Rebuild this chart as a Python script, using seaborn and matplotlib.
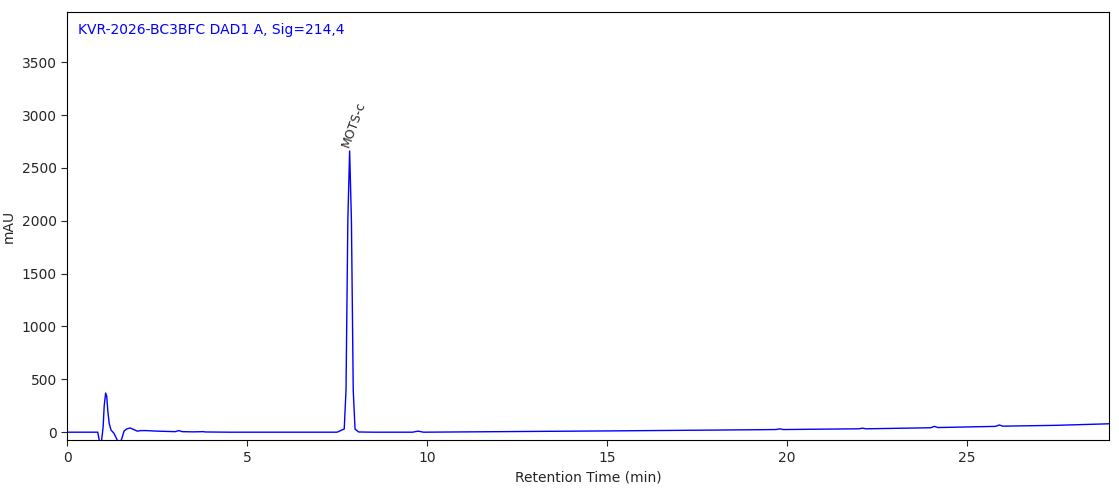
import matplotlib
matplotlib.use("Agg")
import matplotlib.pyplot as plt
import seaborn as sns
import pandas as pd

time_min = [0.0, 0.85, 0.9, 0.95, 1.0, 1.03, 1.07, 1.1, 1.13, 1.17, 1.22, 1.3, 1.4, 1.47, 1.52, 1.58, 1.65, 1.75, 1.85, 1.95, 2.05, 2.2, 2.5, 3.0, 3.1, 3.2, 3.5, 3.78, 3.85, 4.5, 6.0, 7.5, 7.7, 7.75, 7.8, 7.85, 7.9, 7.95, 8.0, 8.1, 8.5, 9.6, 9.75, 9.9, 12.0, 15.0, 18.0, 19.7, 19.8, 19.9, 22.0, 22.1, 22.2, 24.0, 24.1, 24.2, 25.8, 25.9, 26.0, 27.5, 29.0]
mau = [0, 0, -90, -100, 50, 250, 370, 340, 200, 80, 20, -10, -80, -100, -60, 10, 30, 40, 25, 10, 15, 15, 10, 5, 15, 5, 3, 5, 2, 0, 0, 0, 30, 400, 2000, 2660, 2000, 400, 30, 2, 0, 0, 10, 0, 5, 12, 20, 25, 32, 25, 32, 38, 32, 42, 55, 44, 55, 68, 57, 65, 80]

df = pd.DataFrame({"t": time_min, "v": mau})

sns.set_style("white")
fig, ax = plt.subplots(figsize=(11.19, 4.99), dpi=100)
sns.lineplot(data=df, x="t", y="v", ax=ax, color="blue", linewidth=1)
ax.set_xlim(0, 28.95)
ax.set_ylim(-75, 3975)
ax.set_xticks([0, 5, 10, 15, 20, 25])
ax.set_yticks([0, 500, 1000, 1500, 2000, 2500, 3000, 3500])
ax.set_xlabel("Retention Time (min)")
ax.set_ylabel("mAU")
ax.tick_params(axis="both", direction="out", length=4, bottom=True, left=True)
for s in ax.spines.values():
    s.set_color("black")
ax.text(0.01, 0.975, "KVR-2026-BC3BFC DAD1 A, Sig=214,4", transform=ax.transAxes,
        color="blue", va="top", ha="left", fontsize=10)
ax.text(7.9, 2680, "MOTS-c", rotation=70, ha="left", va="bottom", fontsize=9,
        rotation_mode="anchor")
fig.subplots_adjust(left=0.06, right=0.991, top=0.976, bottom=0.118)
fig.savefig("out.png")
